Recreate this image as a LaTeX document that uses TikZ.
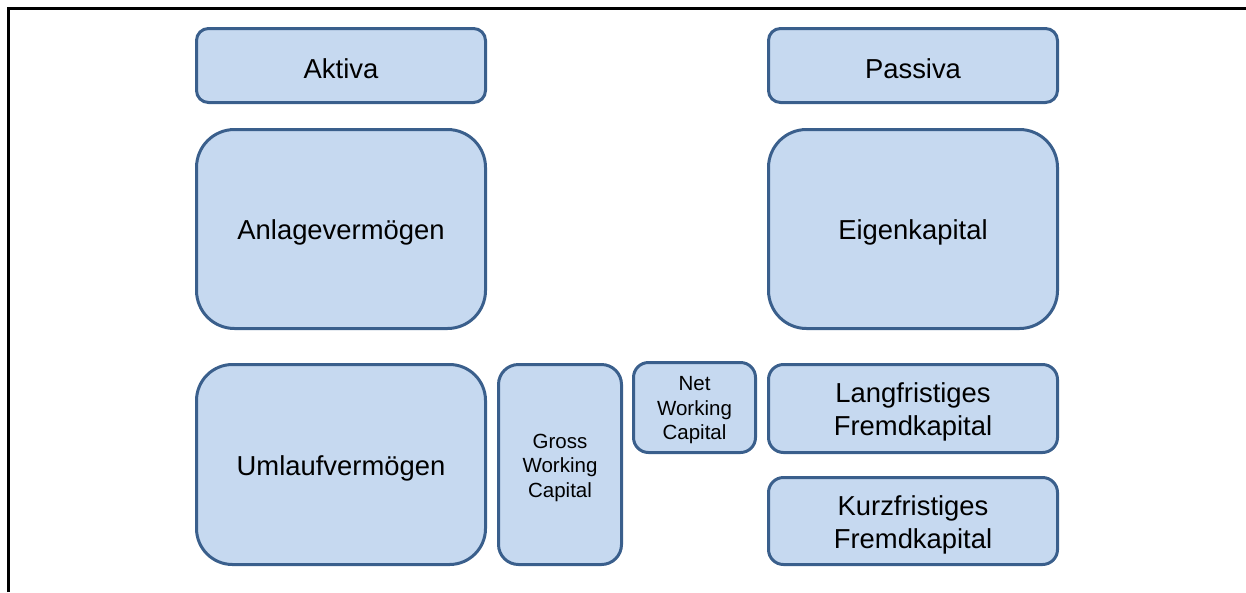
\documentclass[tikz,border=0pt]{standalone}
\usepackage{fontspec}
\setmainfont{Liberation Sans}
\definecolor{boxfill}{HTML}{C6D9F0}
\definecolor{boxline}{HTML}{3A5F8C}
\begin{document}
\begin{tikzpicture}[x=1pt,y=-1pt,
  box/.style={draw=boxline, fill=boxfill, line width=3pt, inner sep=0pt},
  big/.style={label={[font=\fontsize{27.4}{33}\selectfont, align=center, yshift=-3.5pt]center:#1}},
  small/.style={label={[font=\fontsize{20.5}{24.5}\selectfont, align=center, yshift=-3pt]center:#1}}]
\useasboundingbox (0,0) rectangle (1246,592);
\draw[line width=3pt, black] (8,592) -- (8,8) -- (1246,8);
\node[box, big=Aktiva, rounded corners=12pt, minimum width=289pt, minimum height=74pt] (aktiva) at (341,65.5) {};
\node[box, big=Passiva, rounded corners=12pt, minimum width=289pt, minimum height=74pt] (passiva) at (913,65.5) {};
\node[box, big=Anlagevermögen, rounded corners=38pt, minimum width=289pt, minimum height=199pt] (anlage) at (341,229) {};
\node[box, big=Eigenkapital, rounded corners=38pt, minimum width=289pt, minimum height=199pt] (eigen) at (913,229) {};
\node[box, big=Umlaufvermögen, rounded corners=36pt, minimum width=289pt, minimum height=200pt] (umlauf) at (341,464.5) {};
\node[box, small={Gross\\Working\\Capital}, rounded corners=20pt, minimum width=123pt, minimum height=200pt] (gross) at (560,464.5) {};
\node[box, small={Net\\Working\\Capital}, rounded corners=15pt, minimum width=122pt, minimum height=90pt] (net) at (694.5,407.5) {};
\node[box, big={Langfristiges\\Fremdkapital}, rounded corners=15pt, minimum width=289pt, minimum height=88pt] (lang) at (913,408.5) {};
\node[box, big={Kurzfristiges\\Fremdkapital}, rounded corners=15pt, minimum width=289pt, minimum height=87pt] (kurz) at (913,521) {};
\end{tikzpicture}
\end{document}
